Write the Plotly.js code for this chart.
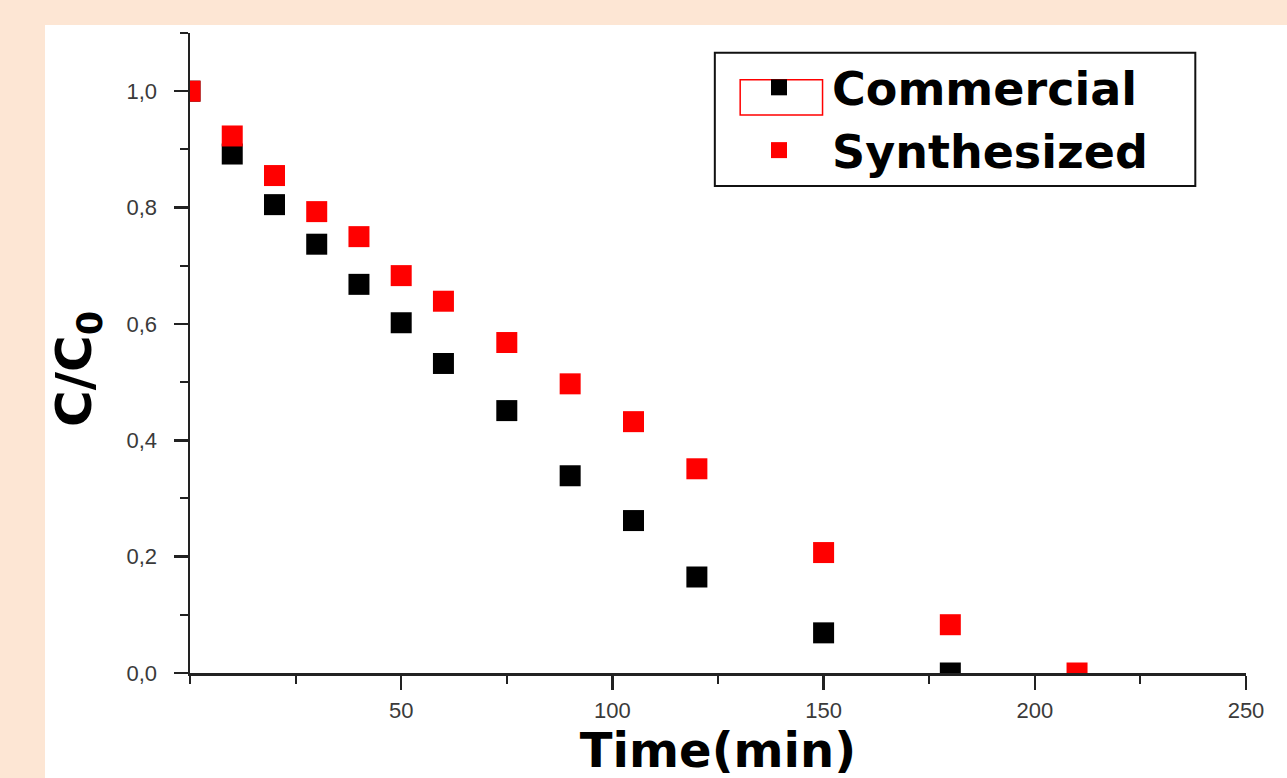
<!DOCTYPE html>
<html>
<head>
<meta charset="utf-8">
<script src="https://cdn.plot.ly/plotly-3.0.1.min.js"></script>
<style>
  html, body { margin: 0; padding: 0; background: #fde6d4; width: 1287px; height: 778px; overflow: hidden; }
  #chart { position: absolute; left: 45px; top: 25px; width: 1242px; height: 753px; background: #ffffff; }
</style>
</head>
<body>
<div id="chart"></div>
<script>
// Data
const timeCommercial = [0, 10, 20, 30, 40, 50, 60, 75, 90, 105, 120, 150, 180];
const ratioCommercial = [1.0, 0.892, 0.805, 0.737, 0.668, 0.602, 0.532, 0.451, 0.339, 0.262, 0.165, 0.069, 0.0];
const timeSynthesized = [0, 10, 20, 30, 40, 50, 60, 75, 90, 105, 120, 150, 180, 210];
const ratioSynthesized = [1.0, 0.923, 0.855, 0.793, 0.750, 0.683, 0.639, 0.568, 0.497, 0.432, 0.351, 0.207, 0.083, 0.0];
const xTickVals = [50, 100, 150, 200, 250];
const yTickVals = [0, 0.2, 0.4, 0.6, 0.8, 1.0];
const seriesNames = ['Commercial', 'Synthesized'];

const traces = [
  {
    x: timeCommercial, y: ratioCommercial, name: seriesNames[0],
    type: 'scatter', mode: 'markers',
    marker: { symbol: 'square', size: 21, color: '#000000' }
  },
  {
    x: timeSynthesized, y: ratioSynthesized, name: seriesNames[1],
    type: 'scatter', mode: 'markers',
    marker: { symbol: 'square', size: 21, color: '#ff0000' }
  }
];

const fam = 'Arial, "Liberation Sans", sans-serif';
const boldFam = '"DejaVu Sans", Arial, sans-serif';
const tickFont = { family: fam, size: 22, color: '#3a3a3a' };

const layout = {
  width: 1242, height: 753,
  margin: { l: 145, r: 41, t: 8, b: 105 },
  paper_bgcolor: '#ffffff', plot_bgcolor: '#ffffff',
  separators: ', ',
  showlegend: true,
  xaxis: {
    range: [0, 250], showgrid: false, zeroline: false,
    showline: true, linecolor: '#222222', linewidth: 2.5,
    ticks: 'outside', ticklen: 14, tickwidth: 2.5, tickcolor: '#222222',
    tickvals: xTickVals, tickfont: tickFont, ticklabelstandoff: 2,
    minor: { dtick: 25, tick0: 25, ticks: 'outside', ticklen: 8, tickwidth: 2, tickcolor: '#222222' },
    title: { text: '<b>Time(min)</b>', font: { family: boldFam, size: 48, color: '#000000' }, standoff: 6 },
    automargin: false
  },
  yaxis: {
    range: [0, 1.1], showgrid: false, zeroline: false,
    showline: true, linecolor: '#222222', linewidth: 2.5,
    ticks: 'outside', ticklen: 14, tickwidth: 2.5, tickcolor: '#222222',
    tickvals: yTickVals, tickformat: '.1f', tickfont: tickFont, ticklabelstandoff: 12,
    minor: { dtick: 0.1, tick0: 0.1, ticks: 'outside', ticklen: 8, tickwidth: 2, tickcolor: '#222222' },
    title: { text: '<b>C/C<sub>0</sub></b>&nbsp;&nbsp;', font: { family: boldFam, size: 50, color: '#000000' }, standoff: 20 },
    automargin: false
  },
  legend: {
    x: 0.5076, y: 0.972, xanchor: 'left', yanchor: 'top',
    bgcolor: 'rgba(255,255,255,0)', borderwidth: 0,
    font: { family: boldFam, size: 46, color: '#000000', weight: 'bold' },
    itemwidth: 96, tracegroupgap: 0
  },
  shapes: [
    // legend frame
    { type: 'rect', xref: 'paper', yref: 'paper', x0: 0.497, x1: 0.952, y0: 0.761, y1: 0.969,
      line: { color: '#111111', width: 2 }, fillcolor: 'rgba(0,0,0,0)' },
    // red selection box around the first legend symbol
    { type: 'rect', xref: 'paper', yref: 'paper', x0: 0.521, x1: 0.599, y0: 0.872, y1: 0.927,
      line: { color: '#ff0000', width: 1.5 }, fillcolor: 'rgba(0,0,0,0)' }
  ]
};

Plotly.newPlot('chart', traces, layout, { displayModeBar: false, staticPlot: true });
</script>
</body>
</html>
